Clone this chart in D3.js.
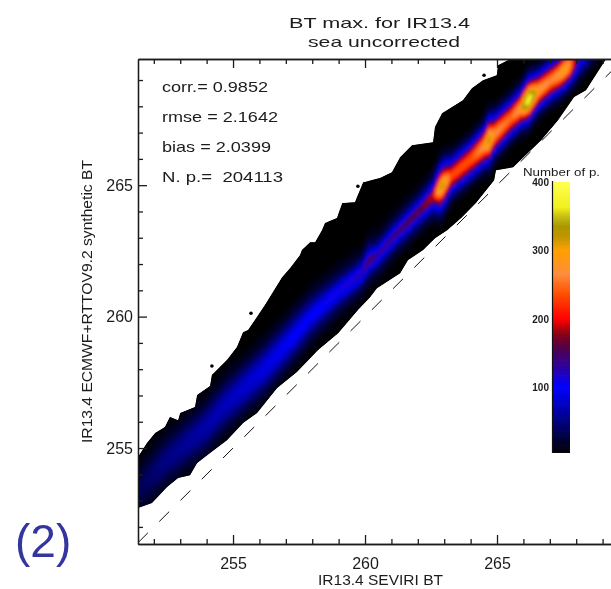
<!DOCTYPE html>
<html><head><meta charset="utf-8">
<script src="https://cdn.jsdelivr.net/npm/d3@7"></script>
<style>html,body{margin:0;background:#fff}svg{display:block}text{font-family:"Liberation Sans",sans-serif;fill:#1c1c1c}</style>
</head><body><div id="c"></div>
<script>
const titleLines = ["BT max. for IR13.4", "sea uncorrected"];
const xLabel = "IR13.4 SEVIRI BT";
const yLabel = "IR13.4 ECMWF+RTTOV9.2 synthetic BT";
const statLines = ["corr.= 0.9852", "rmse = 2.1642", "bias = 2.0399", "N. p.=  204113"];
const panelTag = "(2)";
const legendTitle = "Number of p.";
const majorTicks = [255, 260, 265];
const minorTicks = [252, 253, 254, 256, 257, 258, 259, 261, 262, 263, 264, 266, 267, 268, 269];
const legendTicks = [100, 200, 300, 400];

// outline of the populated cloud [SEVIRI BT, synthetic BT]
const upperEdge = [[251.40,254.66],[251.74,255.19],[252.05,255.57],[252.42,255.80],[252.61,256.18],[252.92,256.06],[253.0,256.33],[253.56,256.56],[253.64,257.02],[254.13,257.36],[254.20,257.78],[254.77,258.35],[255.15,258.84],[255.38,259.41],[255.57,259.49],[255.83,259.87],[256.21,260.44],[256.86,261.50],[257.16,261.84],[257.54,262.34],[257.61,262.53],[257.92,262.83],[258.11,262.83],[258.37,263.29],[258.48,263.56],[258.94,263.75],[259.13,264.32],[259.62,264.35],[259.92,265.11],[260.57,265.27],[261.02,265.49],[261.33,266.06],[261.78,266.52],[262.58,266.63],[262.65,267.21],[262.92,267.74],[263.71,268.23],[264.05,268.69],[264.47,268.99],[264.99,269.18],[265.04,269.56],[265.49,269.79],[269.13,269.79]];
const lowerEdge = [[251.40,252.72],[251.93,252.91],[252.50,253.52],[252.92,253.86],[253.37,253.97],[253.64,254.43],[254.13,254.81],[254.77,255.30],[255.38,255.95],[255.91,256.33],[256.67,257.28],[257.42,257.89],[258.22,258.73],[258.98,259.37],[259.73,260.25],[260.19,260.74],[260.45,261.08],[261.33,261.65],[261.63,262.15],[262.20,262.53],[262.65,262.98],[263.11,263.29],[263.64,263.75],[264.20,264.32],[264.89,265.19],[264.96,265.57],[265.61,265.68],[266.17,266.22],[266.67,266.71],[267.31,267.47],[267.92,268.35],[268.37,268.61],[269.05,269.68],[269.13,269.79]];
const outliers = [[254.20,258.12],[255.68,260.13],[259.73,264.96],[264.51,269.18]];

// density ridge read along the cloud
const ridgeX      = [251.40,252.35,253.86,254.62,256.14,257.27,257.92,258.94,259.81,260.11,260.42,261.06,262.08,262.54,262.73,262.88,263.03,263.22,263.98,264.47,264.66,264.85,265.49,265.87,265.98,266.17,266.33,266.52,267.01,267.31,267.50,267.69,267.96,268.07,268.90];
const ridgeY      = [253.40,254.43,255.68,256.56,257.97,259.22,259.98,260.89,261.58,262.10,262.28,263.02,264.05,264.55,264.75,264.92,265.11,265.30,265.95,266.44,266.68,266.88,267.52,267.90,268.02,268.22,268.38,268.55,268.95,269.15,269.33,269.50,269.72,269.83,270.59];
const ridgePeak   = [35,50,65,72,88,100,100,112,125,155,130,142,165,195,290,325,295,235,238,275,325,270,250,285,345,380,345,280,262,280,300,285,160,130,40];
const ridgeSpread = [0.60,0.60,0.60,0.60,0.58,0.56,0.55,0.52,0.50,0.50,0.48,0.47,0.45,0.45,0.52,0.54,0.52,0.45,0.44,0.46,0.54,0.46,0.44,0.44,0.46,0.50,0.46,0.44,0.44,0.44,0.44,0.44,0.44,0.44,0.44];
const ridgeCore   = [0,0,0,0,0,0.1,0.2,0.4,0.5,0.5,0.5,0.5,0.45,0.35,0.15,0.1,0.15,0.1,0,0,0,0,0,0,0,0,0,0,0,0,0,0,0,0,0];

// colour table
const colorValues = [0,25,50,100,139,158,178,200,237,265,300,320,335,350,363,400];
const colorTable = ["#000000","#00003c","#000082","#0000ff","#3c0082","#500046","#8c0014","#ff0000","#ff5000","#ff8c3c","#ffa000","#be9600","#aa9600","#c8be14","#f0f01e","#ffff50"];

const W = 611, H = 589;
const x = d3.scaleLinear().domain([251.4, 269.75]).range([138, 622.4]);
const y = d3.scaleLinear().domain([251.35, 269.8]).range([544, 59]);
const color = d3.scaleLinear().domain(colorValues).range(colorTable).clamp(true);

const svg = d3.select("#c").append("svg").attr("width", W).attr("height", H)
  .style("filter", "blur(0.4px)");

const outline = upperEdge.concat(lowerEdge.slice().reverse());
const line = d3.line().x(d => x(d[0])).y(d => y(d[1]));
const defs = svg.append("defs");
defs.append("clipPath").attr("id", "cloud").append("path").attr("d", line(outline) + "Z");
defs.append("clipPath").attr("id", "plot").append("rect")
  .attr("x", x(251.4)).attr("y", y(269.8)).attr("width", W - x(251.4)).attr("height", y(251.35) - y(269.8));
defs.append("filter").attr("id", "soft").attr("x", "-5%").attr("y", "-5%").attr("width", "110%").attr("height", "110%")
  .append("feGaussianBlur").attr("stdDeviation", 1.6);

// density cells
const rY = d3.scaleLinear().domain(ridgeX).range(ridgeY);
const rP = d3.scaleLinear().domain(ridgeX).range(ridgePeak);
const rS = d3.scaleLinear().domain(ridgeX).range(ridgeSpread);
const rC = d3.scaleLinear().domain(ridgeX).range(ridgeCore);
const dx = 2 / 26.4, dy = 2 / 26.3;
const cells = [];
for (const bx of d3.range(251.4, 269.2, dx)) {
  for (const by of d3.range(251.35, 269.85, dy)) {
    if (by < bx - 0.6 || by > bx + 5) continue;
    const d = by - rY(bx), s = rS(bx), c = rC(bx);
    const v = rP(bx) * ((1 - c) * Math.exp(-d * d / (2 * s * s)) + c * Math.exp(-d * d / (0.4 * s * s)));
    cells.push({bx, by, v});
  }
}
const cloud = svg.append("g").attr("clip-path", "url(#cloud)");
cloud.append("path").attr("d", line(outline) + "Z").attr("fill", "#000");
cloud.append("g").attr("filter", "url(#soft)").selectAll("rect").data(cells).join("rect")
  .attr("x", d => x(d.bx)).attr("y", d => y(d.by) - 2.6)
  .attr("width", x(dx) - x(0) + 0.6).attr("height", 2.6)
  .attr("fill", d => color(d.v));

svg.append("g").attr("fill", "#000").selectAll("circle").data(outliers).join("circle")
  .attr("cx", d => x(d[0])).attr("cy", d => y(d[1])).attr("r", 1.8);

// 1:1 line
svg.append("line").attr("clip-path", "url(#plot)")
  .attr("x1", x(251.4)).attr("y1", y(251.4)).attr("x2", x(269.8)).attr("y2", y(269.8))
  .attr("stroke", "#111").attr("stroke-width", 1).attr("stroke-dasharray", "14 16");

// axes
function ax(gen, tx, ty, ticks, size, labels) {
  const g = svg.append("g").attr("transform", `translate(${tx},${ty})`)
    .call(gen.tickValues(ticks).tickSize(size).tickSizeOuter(0).tickPadding(6)
      .tickFormat(labels ? d3.format("d") : ""));
  g.selectAll("path,line").attr("stroke", "#1c1c1c").attr("stroke-width", 1.3);
  g.selectAll("text").attr("font-size", 16).attr("fill", "#1c1c1c");
  return g;
}
const bot = y(251.35), top0 = y(269.8), left = x(251.4);
ax(d3.axisBottom(x), 0, bot, majorTicks, -9, true).selectAll("text").attr("y", 25).attr("dy", 0);
ax(d3.axisBottom(x), 0, bot, minorTicks, -5, false);
ax(d3.axisTop(x), 0, top0, majorTicks, -9, false);
ax(d3.axisTop(x), 0, top0, minorTicks, -5, false);
ax(d3.axisLeft(y), left, 0, majorTicks, -9, true).selectAll("text").attr("x", -5).attr("text-anchor", "end");
ax(d3.axisLeft(y), left, 0, minorTicks, -5, false);
svg.selectAll("g text").filter(function(){return this.textContent==="";}).remove();

// titles
svg.selectAll("text.t").data(titleLines).join("text").attr("class", "t")
  .attr("x", (d, i) => i ? 308 : 289).attr("y", (d, i) => i ? 47 : 28)
  .attr("font-size", 15).attr("textLength", (d, i) => i ? 152 : 181)
  .attr("lengthAdjust", "spacingAndGlyphs").text(d => d);
svg.append("text").attr("x", 318).attr("y", 585).attr("font-size", 14.5)
  .attr("textLength", 125).attr("lengthAdjust", "spacingAndGlyphs").text(xLabel);
svg.append("text").attr("transform", "translate(92,443) rotate(-90)").attr("font-size", 15)
  .attr("textLength", 283).attr("lengthAdjust", "spacingAndGlyphs").text(yLabel);

// statistics
svg.selectAll("text.s").data(statLines).join("text").attr("class", "s")
  .attr("x", 162).attr("y", (d, i) => 92 + i * 30).attr("font-size", 15)
  .attr("textLength", (d, i) => [106, 116, 109, 121][i]).attr("lengthAdjust", "spacingAndGlyphs")
  .style("white-space", "pre").text(d => d);

svg.append("text").attr("x", 15).attr("y", 557).attr("font-size", 46)
  .style("fill", "#3535a0").text(panelTag);

// colour bar
const legendScale = d3.scaleLinear().domain([0, 400]).range([455, 182]);
const legendCells = d3.range(4, 400, 1);
const legendBar = svg.append("g");
legendBar.selectAll("rect").data(legendCells).join("rect")
  .attr("x", 553).attr("y", d => legendScale(d + 1)).attr("width", 17)
  .attr("height", legendScale(d3.min(legendCells)) - legendScale(d3.min(legendCells) + 2))
  .attr("fill", d => color(d));
svg.append("line").attr("x1", 552.5).attr("x2", 552.5).attr("y1", 181).attr("y2", 453)
  .attr("stroke", "#111").attr("stroke-width", 1.2);
svg.selectAll("text.l").data(legendTicks).join("text").attr("class", "l")
  .attr("x", 549).attr("y", d => legendScale(d) + 4).attr("text-anchor", "end")
  .attr("font-size", 10).attr("font-weight", "bold").text(d => d);
svg.append("text").attr("x", 523).attr("y", 176).attr("font-size", 11).attr("textLength", 77)
  .attr("lengthAdjust", "spacingAndGlyphs").text(legendTitle);
</script></body></html>
